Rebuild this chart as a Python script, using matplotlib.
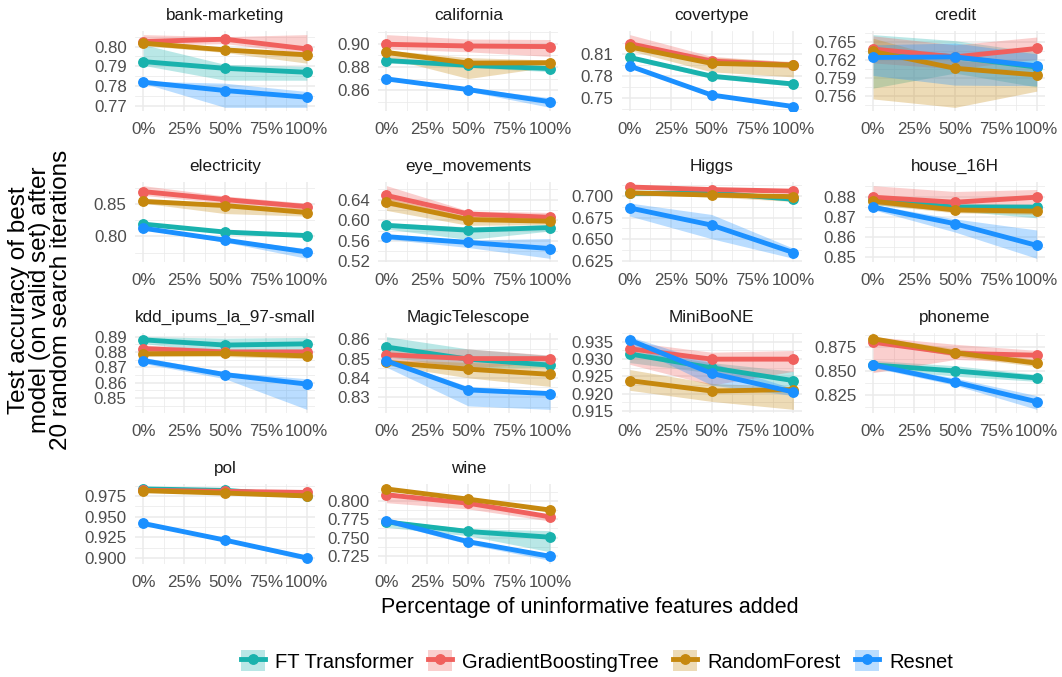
import matplotlib
matplotlib.use('Agg')
import matplotlib.pyplot as plt
from matplotlib.patches import Patch
from matplotlib.lines import Line2D
import numpy as np

plt.rcParams['font.family'] = ['Liberation Sans', 'DejaVu Sans']

datasets = ['bank-marketing', 'california', 'covertype', 'credit',
            'electricity', 'eye_movements', 'Higgs', 'house_16H',
            'kdd_ipums_la_97-small', 'MagicTelescope', 'MiniBooNE', 'phoneme',
            'pol', 'wine']
pct = [0.0, 0.5, 1.0]
pct_labels = ['0%', '25%', '50%', '75%', '100%']
models = ['FT Transformer', 'GradientBoostingTree', 'RandomForest', 'Resnet']
colors = ['#19B2AD', '#F0605D', '#C6880E', '#1B90FF']

# mean / lower / upper of the test accuracy, one row per dataset
ft_mean = [[0.7924, 0.789, 0.787], [0.8855, 0.8814, 0.8786], [0.8055, 0.780, 0.7693], [0.7635, 0.7625, 0.7608],
           [0.8188, 0.8065, 0.8011], [0.590, 0.5806, 0.5856], [0.703, 0.7037, 0.6963], [0.8784, 0.8748, 0.8748],
           [0.8879, 0.8845, 0.8853], [0.856, 0.8497, 0.8466], [0.9315, 0.9275, 0.9238], [0.8563, 0.850, 0.8426],
           [0.9834, 0.9817, 0.975], [0.7713, 0.7583, 0.7505]]
ft_lo = [[0.7905, 0.783, 0.783], [0.8835, 0.8795, 0.876], [0.8025, 0.777, 0.7665], [0.7573, 0.7598, 0.7575],
         [0.817, 0.805, 0.7995], [0.583, 0.5625, 0.579], [0.701, 0.702, 0.694], [0.876, 0.873, 0.8695],
         [0.8855, 0.8795, 0.878], [0.851, 0.845, 0.8455], [0.929, 0.926, 0.9215], [0.8525, 0.8445, 0.839],
         [0.982, 0.980, 0.972], [0.764, 0.7525, 0.7306]]
ft_hi = [[0.801, 0.791, 0.790], [0.8875, 0.8835, 0.881], [0.8085, 0.783, 0.772], [0.7662, 0.7652, 0.7633],
         [0.8205, 0.808, 0.8025], [0.595, 0.587, 0.5915], [0.705, 0.7055, 0.6985], [0.8805, 0.8768, 0.8762],
         [0.890, 0.889, 0.8895], [0.8614, 0.855, 0.8516], [0.9325, 0.929, 0.9265], [0.861, 0.8555, 0.8463],
         [0.985, 0.983, 0.977], [0.7745, 0.762, 0.7595]]

gbt_mean = [[0.8025, 0.8037, 0.7988], [0.8995, 0.898, 0.8975], [0.8244, 0.8005, 0.7951], [0.7638, 0.7625, 0.7639],
            [0.8688, 0.8565, 0.8457], [0.648, 0.612, 0.6056], [0.7104, 0.7075, 0.7056], [0.8797, 0.8772, 0.8797],
            [0.8822, 0.880, 0.880], [0.852, 0.850, 0.850], [0.933, 0.930, 0.930], [0.8801, 0.8685, 0.8665],
            [0.9817, 0.9805, 0.9792], [0.8083, 0.7968, 0.7782]]
gbt_lo = [[0.8005, 0.8015, 0.7965], [0.8955, 0.893, 0.889], [0.818, 0.796, 0.791], [0.7615, 0.7605, 0.7621],
          [0.863, 0.851, 0.841], [0.629, 0.604, 0.597], [0.7085, 0.706, 0.704], [0.8765, 0.8725, 0.8765],
          [0.880, 0.878, 0.878], [0.849, 0.845, 0.848], [0.9285, 0.9225, 0.9265], [0.8482, 0.862, 0.859],
          [0.980, 0.979, 0.9775], [0.7975, 0.789, 0.7725]]
gbt_hi = [[0.806, 0.805, 0.806], [0.9078, 0.904, 0.9036], [0.8366, 0.807, 0.799], [0.766, 0.7645, 0.7658],
          [0.878, 0.862, 0.851], [0.667, 0.618, 0.615], [0.712, 0.709, 0.707], [0.8854, 0.8825, 0.8835],
          [0.8845, 0.882, 0.882], [0.855, 0.855, 0.8518], [0.935, 0.932, 0.9325], [0.886, 0.878, 0.8715],
          [0.983, 0.982, 0.981], [0.8115, 0.7995, 0.7805]]

rf_mean = [[0.8017, 0.7983, 0.7958], [0.8925, 0.8833, 0.8836], [0.8199, 0.7974, 0.7951], [0.7634, 0.7606, 0.7595],
           [0.8538, 0.8473, 0.8366], [0.6344, 0.6013, 0.598], [0.7037, 0.7011, 0.6993], [0.8777, 0.8734, 0.8728],
           [0.8788, 0.879, 0.8774], [0.848, 0.8445, 0.8418], [0.9238, 0.9208, 0.9212], [0.8838, 0.8691, 0.8581],
           [0.9813, 0.9784, 0.975], [0.8162, 0.8023, 0.7875]]
rf_lo = [[0.8005, 0.797, 0.7916], [0.888, 0.870, 0.880], [0.815, 0.7859, 0.779], [0.7555, 0.7541, 0.7568],
         [0.851, 0.835, 0.831], [0.619, 0.590, 0.5915], [0.7015, 0.699, 0.6937], [0.876, 0.872, 0.8712],
         [0.877, 0.877, 0.8755], [0.8465, 0.840, 0.8355], [0.921, 0.9178, 0.9155], [0.8805, 0.8655, 0.8545],
         [0.980, 0.977, 0.973], [0.8145, 0.8005, 0.7855]]
rf_hi = [[0.803, 0.7995, 0.797], [0.8945, 0.888, 0.886], [0.8244, 0.8055, 0.800], [0.7656, 0.7619, 0.7613],
         [0.857, 0.850, 0.843], [0.644, 0.607, 0.607], [0.7055, 0.703, 0.7025], [0.8795, 0.875, 0.8745],
         [0.881, 0.881, 0.8795], [0.8495, 0.848, 0.8465], [0.927, 0.923, 0.922], [0.886, 0.8735, 0.862],
         [0.9825, 0.980, 0.977], [0.818, 0.804, 0.7895]]

res_mean = [[0.782, 0.7778, 0.7744], [0.8697, 0.8605, 0.850], [0.7938, 0.7543, 0.7386], [0.7624, 0.7625, 0.761],
            [0.8124, 0.7941, 0.7758], [0.5681, 0.5569, 0.545], [0.6862, 0.6664, 0.6347], [0.8748, 0.8666, 0.8559],
            [0.8744, 0.8652, 0.859], [0.8488, 0.8337, 0.8318], [0.9355, 0.9259, 0.9205], [0.8563, 0.8382, 0.8176],
            [0.9417, 0.9215, 0.900], [0.7731, 0.7444, 0.7245]]
res_lo = [[0.7815, 0.7693, 0.7693], [0.8685, 0.859, 0.8452], [0.7925, 0.753, 0.7375], [0.7594, 0.7578, 0.7577],
          [0.811, 0.791, 0.766], [0.5635, 0.547, 0.526], [0.6769, 0.6507, 0.628], [0.8735, 0.8625, 0.8495],
          [0.8725, 0.8625, 0.8425], [0.8455, 0.8254, 0.8236], [0.934, 0.9225, 0.9195], [0.8535, 0.835, 0.8096],
          [0.9405, 0.920, 0.897], [0.770, 0.741, 0.719]]
res_hi = [[0.7825, 0.7815, 0.7773], [0.871, 0.862, 0.8535], [0.795, 0.7555, 0.7398], [0.7645, 0.7648, 0.763],
          [0.814, 0.7965, 0.781], [0.5715, 0.5615, 0.5645], [0.6919, 0.6787, 0.6396], [0.876, 0.869, 0.8635],
          [0.8765, 0.867, 0.8625], [0.850, 0.8355, 0.833], [0.9365, 0.929, 0.9215], [0.858, 0.8425, 0.824],
          [0.943, 0.923, 0.9025], [0.7755, 0.7475, 0.727]]

ytick_labels = [['0.77', '0.78', '0.79', '0.80'], ['0.86', '0.88', '0.90'], ['0.75', '0.78', '0.81'],
                ['0.756', '0.759', '0.762', '0.765'], ['0.80', '0.85'], ['0.52', '0.56', '0.60', '0.64'],
                ['0.625', '0.650', '0.675', '0.700'], ['0.85', '0.86', '0.87', '0.88'],
                ['0.85', '0.86', '0.87', '0.88', '0.89'], ['0.83', '0.84', '0.85', '0.86'],
                ['0.915', '0.920', '0.925', '0.930', '0.935'], ['0.825', '0.850', '0.875'],
                ['0.900', '0.925', '0.950', '0.975'], ['0.725', '0.750', '0.775', '0.800']]

means = [ft_mean, gbt_mean, rf_mean, res_mean]
lows = [ft_lo, gbt_lo, rf_lo, res_lo]
highs = [ft_hi, gbt_hi, rf_hi, res_hi]

W, H = 1062, 677
fig = plt.figure(figsize=(W / 100, H / 100), dpi=100)
left0, pitch_x, pw = 135, 243.3, 180
top0, pitch_y, ph = 31, 151, 80
grid_col = '#EBEBEB'

for i, name in enumerate(datasets):
    row, col = i // 4, i % 4
    x0 = left0 + col * pitch_x
    y0 = top0 + row * pitch_y
    ax = fig.add_axes([x0 / W, 1 - (y0 + ph) / H, pw / W, ph / H])

    for m in range(4):
        ax.fill_between(pct, lows[m][i], highs[m][i], color=colors[m], alpha=0.3, lw=0, zorder=2)
    for m in range(4):
        ax.plot(pct, means[m][i], color=colors[m], lw=3.5, marker='o', ms=6.8,
                solid_capstyle='butt', zorder=3 + m)

    lo = min(min(l[i]) for l in lows)
    hi = max(max(h[i]) for h in highs)
    pad = 0.05 * (hi - lo)
    ax.set_ylim(lo - pad, hi + pad)
    ax.set_xlim(-0.05, 1.05)

    yt = [float(t) for t in ytick_labels[i]]
    step = yt[1] - yt[0]
    ax.set_yticks(yt)
    ax.set_yticklabels(ytick_labels[i])
    minor = [yt[0] - step / 2] + [v + step / 2 for v in yt]
    minor = [v for v in minor if lo - pad <= v <= hi + pad]
    ax.set_yticks(minor, minor=True)
    ax.set_xticks([0, 0.25, 0.5, 0.75, 1.0])
    ax.set_xticklabels(pct_labels)
    ax.set_xticks([0.125, 0.375, 0.625, 0.875], minor=True)

    ax.grid(which='major', color=grid_col, lw=1.1, zorder=0)
    ax.grid(which='minor', color=grid_col, lw=0.55, zorder=0)
    ax.set_axisbelow(True)
    for s in ax.spines.values():
        s.set_visible(False)
    ax.tick_params(which='both', length=0, labelsize=12.2, labelcolor='#4D4D4D')
    ax.tick_params(axis='x', pad=8)
    ax.tick_params(axis='y', pad=6)
    ax.set_title(name, fontsize=12.3, color='#1A1A1A', pad=8)

fig.text(590 / W, 1 - 607 / H, 'Percentage of uninformative features added',
         ha='center', va='center', fontsize=15.5, color='black')
fig.text(40 / W, 1 - 300 / H, 'Test accuracy of best\nmodel (on valid set) after\n20 random search iterations',
         ha='center', va='center', rotation=90, fontsize=17.5, color='black', linespacing=0.93)

handles = [(Patch(facecolor=c, alpha=0.3, edgecolor='none'),
            Line2D([], [], color=c, lw=3.5, marker='o', ms=6.8)) for c in colors]
fig.legend(handles, models, loc='center', bbox_to_anchor=(597 / W, 1 - 661 / H), ncol=4,
           frameon=False, fontsize=14.5, handlelength=1.2, handleheight=1.2,
           handletextpad=0.5, columnspacing=0.7)

plt.savefig('out.png', dpi=100)
